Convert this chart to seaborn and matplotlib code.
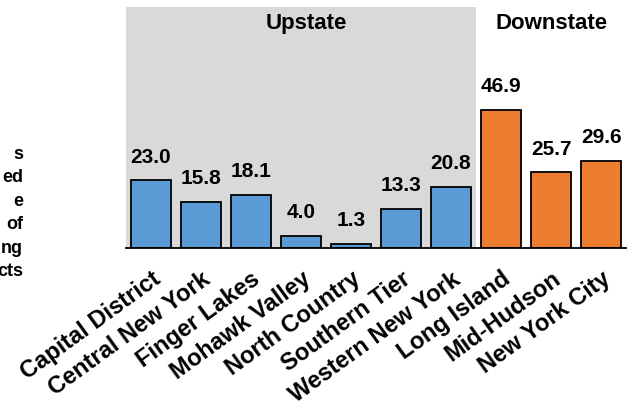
import matplotlib
matplotlib.use('Agg')
import matplotlib.pyplot as plt
import seaborn as sns
import pandas as pd

regions = ['Capital District', 'Central New York', 'Finger Lakes', 'Mohawk Valley',
           'North Country', 'Southern Tier', 'Western New York',
           'Long Island', 'Mid-Hudson', 'New York City']
values = [23.0, 15.8, 18.1, 4.0, 1.3, 13.3, 20.8, 46.9, 25.7, 29.6]
area = ['Upstate'] * 7 + ['Downstate'] * 3
ylabel_bits = ['s', 'ed', 'e', 'of', 'ng', 'cts']

data = pd.DataFrame({'Region': regions, 'Value': values, 'Area': area})

sns.set_style('white')
plt.rcParams['font.family'] = ['Liberation Sans', 'DejaVu Sans']
plt.rcParams['font.weight'] = 'bold'
plt.rcParams['text.color'] = 'black'
plt.rcParams['xtick.color'] = 'black'
plt.rcParams['xtick.labelcolor'] = 'black'

fig = plt.figure(figsize=(6.31, 4.09), dpi=100)
ax = fig.add_axes([0.1997, 0.3936, 0.7925, 0.5894])

ax.axvspan(-0.5, 6.5, color='#D9D9D9', zorder=0, lw=0)
sns.barplot(data=data, x='Region', y='Value', hue='Area', dodge=False, saturation=1,
            palette={'Upstate': '#5B9BD5', 'Downstate': '#ED7D31'},
            edgecolor='black', linewidth=1.3, width=0.8, legend=False, ax=ax, zorder=2)

for c in ax.containers:
    ax.bar_label(c, fmt='%.1f', padding=10, fontsize=15, fontweight='bold', color='black')

ax.set_xlim(-0.5, 9.5)
ax.set_ylim(0, 82)
ax.set_xlabel('')
ax.set_ylabel('')
ax.set_yticks([])

for s in ['left', 'right', 'top']:
    ax.spines[s].set_visible(False)
ax.spines['bottom'].set_color('black')
ax.spines['bottom'].set_linewidth(1.3)

ax.set_xticks(range(len(regions)))
ax.set_xticklabels(regions, rotation=36, ha='right', rotation_mode='anchor',
                   fontsize=17, fontweight='bold')
ax.tick_params(axis='x', which='major', length=0, pad=14)
ax.set_xticks([i - 0.5 for i in range(len(regions) + 1)], minor=True)
ax.tick_params(axis='x', which='minor', length=5, width=1.3, color='black', direction='out')

ax.text(3.1, 76.5, 'Upstate', ha='center', va='center', fontsize=16, fontweight='bold')
ax.text(8.0, 76.5, 'Downstate', ha='center', va='center', fontsize=16, fontweight='bold')

fig.text(23 / 631, 1 - 213 / 409, '\n'.join(ylabel_bits), ha='right', va='center',
         fontsize=13, fontweight='bold', linespacing=1.5)

fig.savefig('out.png', dpi=100)
